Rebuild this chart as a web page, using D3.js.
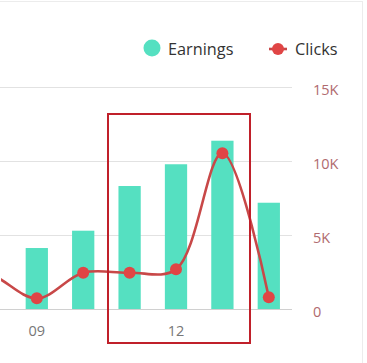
<!DOCTYPE html>
<html><head><meta charset="utf-8">
<script src="https://cdn.jsdelivr.net/npm/d3@7"></script>
<style>
html,body{margin:0;padding:0;background:#fff;}
svg{display:block;font-family:"Open Sans","Noto Sans",sans-serif;}
</style></head>
<body><svg id="c" width="367" height="363"></svg>
<script>
const categories = ["06","07","08","09","10","11","12","13","14"];
const earnings = [null, null, null, 4120, 5290, 8310, 9780, 11370, 7180];
const clicks = [3400, 2900, 2350, 720, 2450, 2450, 2680, 10520, 790];
const yTicks = [0, 5000, 10000, 15000];
const yTickLabels = ["0", "5K", "10K", "15K"];
const xTickLabels = ["09", "12"];
const seriesNames = ["Earnings", "Clicks"];

const svg = d3.select("#c");
const W = 367, H = 363;
// card border
svg.append("rect").attr("x", -2).attr("y", 1.5).attr("width", W - 2.5).attr("height", H + 4)
  .attr("fill", "#fff").attr("stroke", "#ececec").attr("stroke-width", 1);

const plotRight = 292;
const step = 46.4;
const x = d3.scaleBand().domain(categories)
  .range([plotRight - step * categories.length, plotRight]).paddingInner(0.52).paddingOuter(0.26);
const y = d3.scaleLinear().domain([0, 15000]).range([309, 87]);

const defs = svg.append("defs");
defs.append("clipPath").attr("id", "clip").append("rect")
  .attr("x", 1).attr("y", 0).attr("width", plotRight).attr("height", H);

// grid
svg.append("g").selectAll("line").data(yTicks).join("line")
  .attr("x1", 0).attr("x2", plotRight)
  .attr("y1", d => y(d) + 0.5).attr("y2", d => y(d) + 0.5)
  .attr("stroke", d => d === 0 ? "#d0d0d0" : "#e2e2e2").attr("stroke-width", 1.2);

// right axis
const yAxis = d3.axisRight(y).tickValues(yTicks)
  .tickFormat((d, i) => yTickLabels[i]).tickSize(0).tickPadding(21);
const ya = svg.append("g").attr("transform", `translate(${plotRight},0)`).call(yAxis);
ya.select(".domain").remove();
ya.selectAll("text").attr("fill", "#b06a6e").attr("font-size", 14.5)
  .attr("font-family", "'Open Sans','Noto Sans',sans-serif").attr("dy", "0.55em");

// x axis labels
const xAxis = d3.axisBottom(x).tickValues(xTickLabels).tickSize(0).tickPadding(17);
const xa = svg.append("g").attr("transform", `translate(0,309)`).call(xAxis);
xa.select(".domain").remove();
xa.selectAll("text").attr("fill", "#777").attr("font-size", 14.5)
  .attr("font-family", "'Open Sans','Noto Sans',sans-serif");

const plot = svg.append("g").attr("clip-path", "url(#clip)");
// bars
plot.selectAll("rect.bar").data(categories.map((c, i) => ({c, v: earnings[i]})).filter(d => d.v != null))
  .join("rect").attr("class", "bar")
  .attr("x", d => x(d.c)).attr("width", x.bandwidth())
  .attr("y", d => y(d.v)).attr("height", d => y(0) - y(d.v))
  .attr("fill", "#55e0c1");

// line
const pts = categories.map((c, i) => [x(c) + x.bandwidth() / 2, y(clicks[i])]);
plot.append("path").attr("d", d3.line().curve(d3.curveCatmullRom.alpha(0.5))(pts))
  .attr("fill", "none").attr("stroke", "#c84848").attr("stroke-width", 2.6);
plot.selectAll("circle.pt").data(pts).join("circle").attr("class", "pt")
  .attr("cx", d => d[0]).attr("cy", d => d[1]).attr("r", 6)
  .attr("fill", "#e04545");

// legend
const lg = svg.append("g");
lg.append("circle").attr("cx", 152).attr("cy", 48).attr("r", 8.5).attr("fill", "#55e0c1");
lg.append("text").attr("x", 168).attr("y", 55).text(seriesNames[0])
  .attr("font-size", 16.3).attr("fill", "#333");
lg.append("line").attr("x1", 269).attr("x2", 287).attr("y1", 49).attr("y2", 49)
  .attr("stroke", "#c84848").attr("stroke-width", 2.6);
lg.append("circle").attr("cx", 278).attr("cy", 49).attr("r", 6).attr("fill", "#e04545");
lg.append("text").attr("x", 295).attr("y", 55).text(seriesNames[1])
  .attr("font-size", 16.3).attr("fill", "#333");

// highlight box
svg.append("rect").attr("x", 108).attr("y", 114).attr("width", 142).attr("height", 229)
  .attr("fill", "none").attr("stroke", "#c0202a").attr("stroke-width", 2);
</script></body></html>
